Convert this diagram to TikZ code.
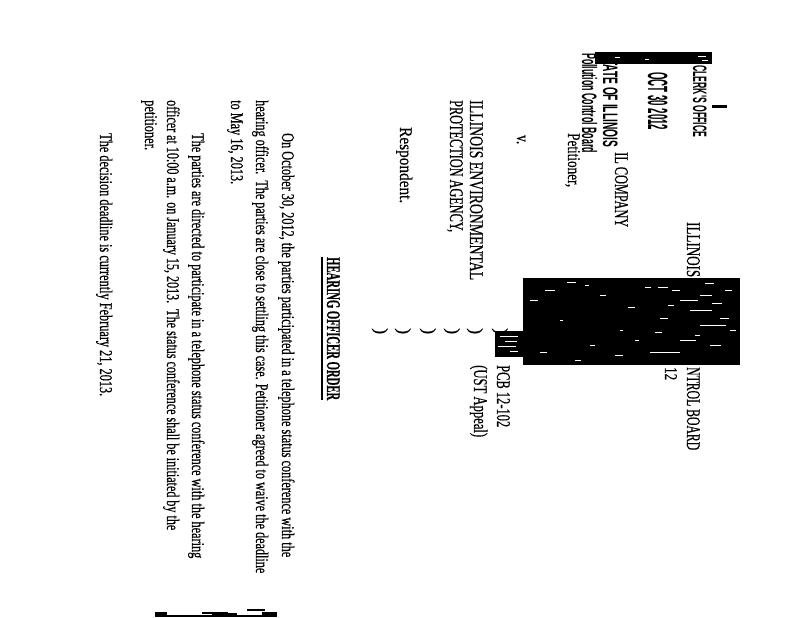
\documentclass[tikz,border=0pt]{standalone}
\usepackage{fontspec}
\usepackage{graphicx}
\setmainfont[FakeBold=0.6]{Liberation Serif}
\newfontfamily\stampfont{Liberation Sans}
\usetikzlibrary{positioning}
\tikzstyle{typed} = [rotate=-90, anchor=base west, inner sep=0pt, font=\fontsize{18}{18}\selectfont]
\tikzstyle{capline} = [typed, font=\fontsize{19.5}{19.5}\selectfont]
\tikzstyle{boldtitle} = [typed, font=\fontsize{19.5}{19.5}\selectfont\bfseries]
\tikzstyle{stamped} = [typed, font=\stampfont\bfseries\fontsize{21}{21}\selectfont]
\tikzstyle{redact} = [fill=black, draw=none]
\tikzstyle{speck} = [white, line width=0.8bp]
\newcommand{\fitline}[2]{\resizebox{#1bp}{\height}{#2}}

\begin{document}
\begin{tikzpicture}[x=1bp, y=-1bp]

\useasboundingbox (0,0) rectangle (800,618);
\fill[white] (0,0) rectangle (800,618);

% stamp
\node (clerk) [stamped, font=\stampfont\bfseries\fontsize{19.5}{19.5}\selectfont] at (693,65) {\fitline{72}{CLERK'S OFFICE}};
\node (stampdate) [stamped, font=\stampfont\bfseries\fontsize{28}{28}\selectfont] at (648,72) {\fitline{58}{OCT 30 2012}};
\node (stampstate) [stamped] at (603,52) {\fitline{95}{STATE OF ILLINOIS}};
\node (stampboard) [stamped] at (582,53) {\fitline{100}{Pollution Control Board}};

% caption
\node (board1) [capline] at (687,222) {\fitline{55}{ILLINOIS}};
\node (board2) [capline] at (687,367) {\fitline{83}{NTROL BOARD}};
\node (board3) [typed] at (665,367) {\fitline{13}{12}};
\node (company) [capline] at (615,152) {\fitline{75}{IL COMPANY}};
\node (petitioner) [typed] at (568,133) {\fitline{54}{Petitioner,}};
\node (versus) [typed] at (517,135) {\fitline{9}{v.}};
\node (agency1) [capline] at (470,100) {\fitline{180}{ILLINOIS ENVIRONMENTAL}};
\node (agency2) [capline] at (450,100) {\fitline{132}{PROTECTION AGENCY,}};
\node (respondent) [typed] at (400,127) {\fitline{76}{Respondent.}};

\node (paren1) [typed] at (495.5,328) {)};
\node (paren2) [typed] at (470.5,328) {)};
\node (paren3) [typed] at (447.5,328) {)};
\node (paren4) [typed] at (423.5,328) {)};
\node (paren5) [typed] at (398.5,328) {)};
\node (paren6) [typed] at (375.5,328) {)};

\node (docket) [capline] at (497,365) {\fitline{62}{PCB 12-102}};
\node (appeal) [capline] at (474,365) {\fitline{72}{(UST Appeal)}};

% order
\node (title) [boldtitle] at (327,257) {\fitline{143}{HEARING OFFICER ORDER}};
\draw[line width=1.8bp] (322,257) -- (322,400);

\node (line1) [typed] at (282,133) {\fitline{424}{On October 30, 2012, the parties participated in a telephone status conference with the}};
\node (line2) [typed] at (256,100) {\fitline{473}{hearing officer.\ \ The parties are close to settling this case. Petitioner agreed to waive the deadline}};
\node (line3) [typed] at (231,100) {\fitline{84}{to May 16, 2013.}};
\node (line4) [typed] at (192,133) {\fitline{425}{The parties are directed to participate in a telephone status conference with the hearing}};
\node (line5) [typed] at (167,100) {\fitline{430}{officer at 10:00 a.m. on January 15, 2013.\ \ The status conference shall be initiated by the}};
\node (line6) [typed] at (145,100) {\fitline{50}{petitioner.}};
\node (line7) [typed] at (100,133) {\fitline{263}{The decision deadline is currently February 21, 2013.}};

% redactions and scan marks
\fill[redact] (523,278) rectangle (740,365);
\fill[redact] (495,331) rectangle (523,357);
\fill[redact] (595,52) rectangle (712,64);
\fill[redact] (712,105) rectangle (727,108);

\draw[speck] (530,300) -- ++(8,0) (545,290) -- ++(10,0) (567,282) -- ++(9,0) (585,285) -- ++(4,0)
  (600,295) -- ++(6,0) (560,320) -- ++(3,0) (590,345) -- ++(5,0) (615,355) -- ++(8,0)
  (628,307) -- ++(7,0) (635,340) -- ++(4,0) (645,287) -- ++(6,0) (658,287) -- ++(10,0)
  (672,290) -- ++(8,0) (680,300) -- ++(18,0) (700,295) -- ++(12,0) (690,310) -- ++(22,0)
  (660,318) -- ++(8,0) (700,325) -- ++(26,0) (720,318) -- ++(9,0) (655,332) -- ++(7,0)
  (680,340) -- ++(16,0) (710,345) -- ++(11,0) (650,352) -- ++(30,0) (725,290) -- ++(7,0)
  (705,283) -- ++(9,0) (540,352) -- ++(7,0) (575,360) -- ++(6,0) (620,330) -- ++(3,0)
  (668,305) -- ++(6,0) (712,303) -- ++(10,0) (695,335) -- ++(5,0) (730,330) -- ++(6,0);
\draw[speck] (500,336) -- ++(18,0) (505,341) -- ++(12,0) (498,346) -- ++(18,0) (510,351) -- ++(8,0);
\draw[speck] (615,57) -- ++(5,0) (645,59) -- ++(4,0) (698,56) -- ++(8,0) (702,60) -- ++(6,0);

\fill[black] (157,615) rectangle (277,617);
\fill[black] (155,612) rectangle (167,617);
\fill[black] (202,612) rectangle (228,614);
\fill[black] (212,613) rectangle (237,615);
\fill[black] (247,609) rectangle (265,611);
\fill[black] (262,612) rectangle (277,617);

\end{tikzpicture}
\end{document}
